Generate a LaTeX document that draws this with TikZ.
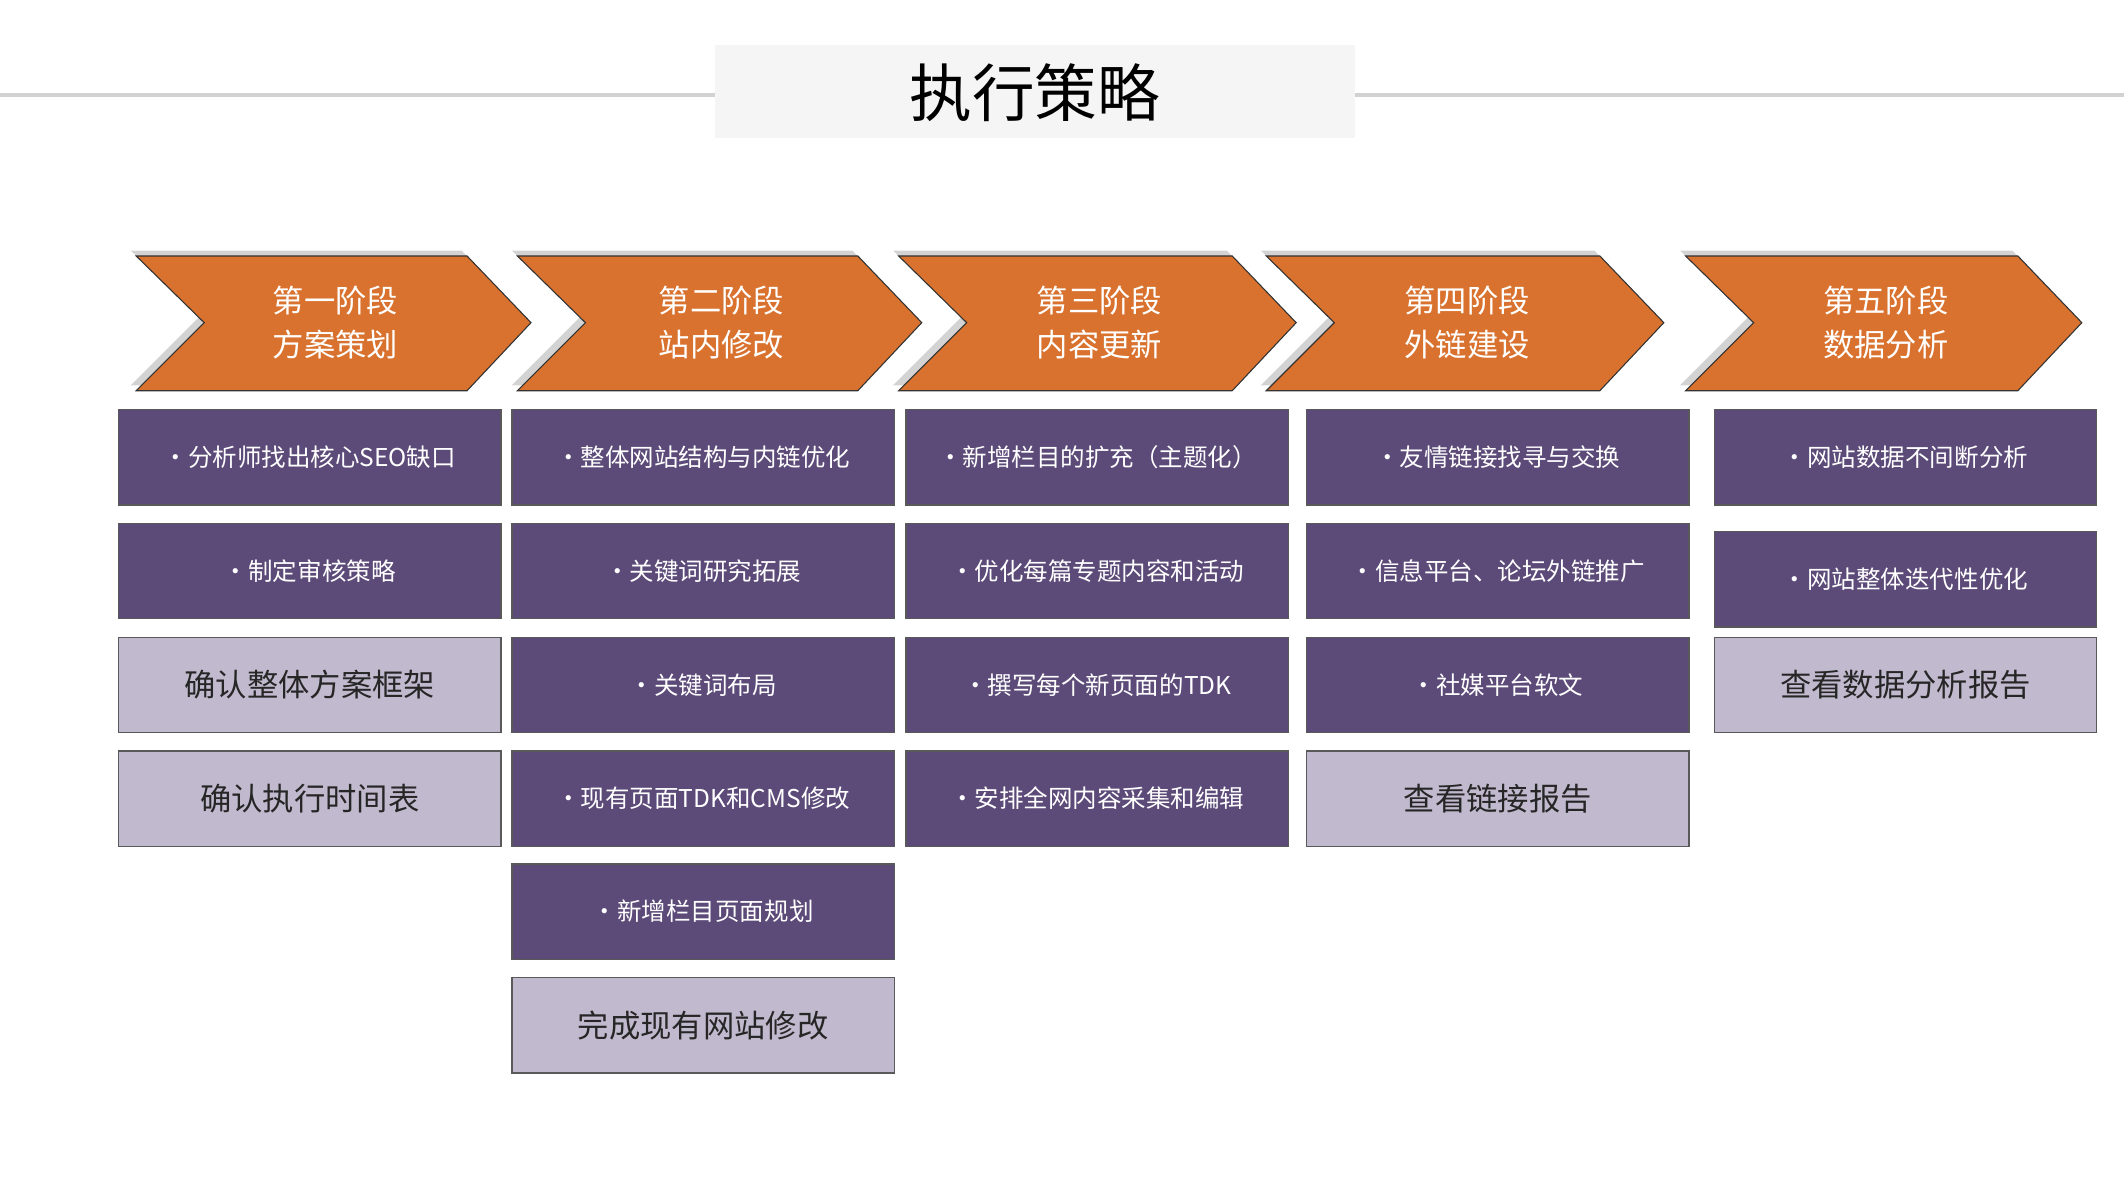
\documentclass[tikz,border=0pt]{standalone}
\usepackage{fontspec}
\setmainfont{Noto Sans CJK SC}
\usetikzlibrary{shadows}
\definecolor{org}{HTML}{D9722E}
\definecolor{pur}{HTML}{5C4A78}
\definecolor{lpur}{HTML}{C1BACE}
\tikzset{
 pbox/.style={draw=gray!70!black,line width=0.5pt,fill=pur,text=white,minimum width=140.5pt,minimum height=35pt,inner sep=0pt,font=\fontsize{9}{11}\selectfont},
 lbox/.style={draw=gray!70!black,line width=0.5pt,fill=lpur,text=black!85,minimum width=140.5pt,minimum height=35pt,inner sep=0pt,font=\fontsize{11.5}{13}\selectfont},
 chev/.style={fill=org,draw=black!80,line width=0.4pt,drop shadow={shadow xshift=-2pt,shadow yshift=2pt,opacity=0.35}},
 ctext/.style={text=white,align=center,font=\fontsize{11.5}{16}\selectfont}
}
\begin{document}
\begin{tikzpicture}[x=0.5pt,y=-0.5pt]
\useasboundingbox (0,0) rectangle (1560,876);
\draw[line width=1.5pt,gray!35] (0,70) -- (1560,70);
\fill[gray!8] (525,33) rectangle (995,101);
\node[font=\fontsize{23}{26}\selectfont] (title) at (760,68) {执行策略};
\foreach \x/\w/\n/\a/\b in {100/243/c1/第一阶段/方案策划,380/250/c2/第二阶段/站内修改,660/245/c3/第三阶段/内容更新,930/245/c4/第四阶段/外链建设,1238/244/c5/第五阶段/数据分析}{
 \path[chev] (\x,188) -- ++(\w,0) -- ++(47,49) -- ++(-47,50) -- ++(-\w,0) -- ++(50,-50) -- cycle;
 \node[ctext] (\n) at ({\x+25+\w/2},237) {\a\\\b};
}
% column 1
\node[pbox] (a1) at (227.5,336) {•分析师找出核心SEO缺口};
\node[pbox] (a2) at (227.5,419.5) {•制定审核策略};
\node[lbox] (a3) at (227.5,503) {确认整体方案框架};
\node[lbox] (a4) at (227.5,586.5) {确认执行时间表};
% column 2
\node[pbox] (b1) at (516.5,336) {•整体网站结构与内链优化};
\node[pbox] (b2) at (516.5,419.5) {•关键词研究拓展};
\node[pbox] (b3) at (516.5,503) {•关键词布局};
\node[pbox] (b4) at (516.5,586.5) {•现有页面TDK和CMS修改};
\node[pbox] (b5) at (516.5,669.5) {•新增栏目页面规划};
\node[lbox] (b6) at (516.5,753) {完成现有网站修改};
% column 3
\node[pbox] (c1b) at (806,336) {•新增栏目的扩充（主题化）};
\node[pbox] (c2b) at (806,419.5) {•优化每篇专题内容和活动};
\node[pbox] (c3b) at (806,503) {•撰写每个新页面的TDK};
\node[pbox] (c4b) at (806,586.5) {•安排全网内容采集和编辑};
% column 4
\node[pbox] (d1) at (1100,336) {•友情链接找寻与交换};
\node[pbox] (d2) at (1100,419.5) {•信息平台、论坛外链推广};
\node[pbox] (d3) at (1100,503) {•社媒平台软文};
\node[lbox] (d4) at (1100,586.5) {查看链接报告};
% column 5
\node[pbox] (e1) at (1399.5,336) {•网站数据不间断分析};
\node[pbox] (e2) at (1399.5,425.5) {•网站整体迭代性优化};
\node[lbox] (e3) at (1399.5,503) {查看数据分析报告};
\end{tikzpicture}
\end{document}
